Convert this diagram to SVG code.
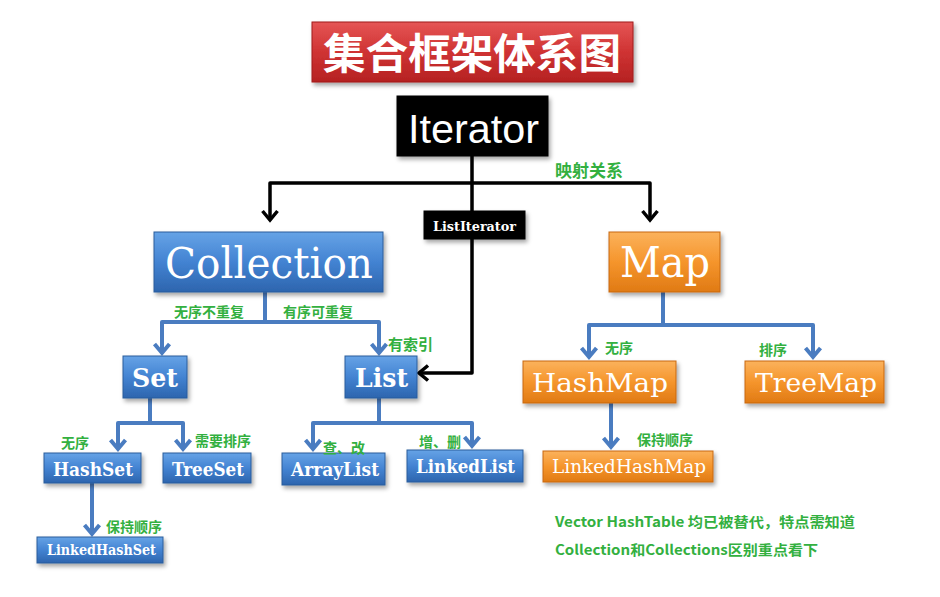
<svg xmlns="http://www.w3.org/2000/svg" width="940" height="597" viewBox="0 0 940 597">
<style>
.box{stroke-width:1}
.blue{fill:url(#gBlue);stroke:#2b5c9c}
.orange{fill:url(#gOrange);stroke:#c8680e}
.black{fill:#050505;stroke:#000}
.nt{font-family:"DejaVu Serif","Liberation Serif",serif;fill:#fff;text-anchor:start}
.gl{font-family:"Noto Sans CJK SC","Noto Sans",sans-serif;font-weight:bold;fill:#33b040}
.bl{fill:none;stroke:#4a7cc0;stroke-width:4;stroke-linejoin:round}
.bk{fill:none;stroke:#000;stroke-width:3.5;stroke-linejoin:round}
</style>
<defs>
<linearGradient id="gBlue" x1="0" y1="0" x2="0" y2="1">
<stop offset="0" stop-color="#66a3e6"/><stop offset="0.5" stop-color="#4383d2"/><stop offset="1" stop-color="#2d65ae"/>
</linearGradient>
<linearGradient id="gOrange" x1="0" y1="0" x2="0" y2="1">
<stop offset="0" stop-color="#fbb25c"/><stop offset="0.5" stop-color="#f5952c"/><stop offset="1" stop-color="#e07a14"/>
</linearGradient>
<linearGradient id="gRed" x1="0" y1="0" x2="0" y2="1">
<stop offset="0" stop-color="#e55555"/><stop offset="0.5" stop-color="#cf3333"/><stop offset="1" stop-color="#b52222"/>
</linearGradient>
<filter id="sh" x="-10%" y="-20%" width="125%" height="160%">
<feDropShadow dx="2" dy="3" stdDeviation="2" flood-color="#000" flood-opacity="0.35"/>
</filter>
<marker id="aBlue" markerUnits="userSpaceOnUse" markerWidth="24" markerHeight="24" viewBox="-12 -12 24 24" refX="0" refY="0" orient="auto-start-reverse">
<path d="M-9,-7.5 L0,0 L-9,7.5" fill="none" stroke="#4a7cc0" stroke-width="4" stroke-linejoin="miter"/>
</marker>
<marker id="aBlack" markerUnits="userSpaceOnUse" markerWidth="24" markerHeight="24" viewBox="-12 -12 24 24" refX="0" refY="0" orient="auto-start-reverse">
<path d="M-9,-7.5 L0,0 L-9,7.5" fill="none" stroke="#000" stroke-width="3.5" stroke-linejoin="miter"/>
</marker>
</defs>
<rect width="940" height="597" fill="#fff"/>

<g id="connectors">
<path class="bk" d="M472,156 V373 H419" marker-end="url(#aBlack)"/>
<path class="bk" d="M270,220 V183 H650 V220" marker-start="url(#aBlack)" marker-end="url(#aBlack)"/>
<path class="bl" d="M265,292 V322"/>
<path class="bl" d="M162,353 V322 H379 V353" marker-start="url(#aBlue)" marker-end="url(#aBlue)"/>
<path class="bl" d="M150,398 V423"/>
<path class="bl" d="M118,449 V423 H183 V449" marker-start="url(#aBlue)" marker-end="url(#aBlue)"/>
<path class="bl" d="M379,398 V423"/>
<path class="bl" d="M313,449 V423 H472 V446" marker-start="url(#aBlue)" marker-end="url(#aBlue)"/>
<path class="bl" d="M92,483 V534" marker-end="url(#aBlue)"/>
<path class="bl" d="M663,292 V325"/>
<path class="bl" d="M589,357 V325 H813 V357" marker-start="url(#aBlue)" marker-end="url(#aBlue)"/>
<path class="bl" d="M611,403 V447" marker-end="url(#aBlue)"/>
</g>

<g id="title">
<rect x="312" y="22" width="321" height="60" fill="url(#gRed)" stroke="#a01c1c" filter="url(#sh)"/>
<text x="472" y="69" font-family="Noto Sans CJK SC,sans-serif" font-weight="bold" font-size="42" fill="#fff" text-anchor="middle" textLength="298" lengthAdjust="spacingAndGlyphs">集合框架体系图</text>
</g>

<g id="iterator">
<rect class="black" x="397" y="96" width="151" height="60" filter="url(#sh)"/>
<text x="408" y="143" font-family="Liberation Sans,Arial,sans-serif" font-size="40" fill="#fff" textLength="131" lengthAdjust="spacingAndGlyphs">Iterator</text>
</g>

<g id="listiterator">
<rect class="black" x="424" y="211" width="101" height="28" filter="url(#sh)"/>
<text class="nt" x="433" y="231" font-size="13" font-weight="bold" textLength="83" lengthAdjust="spacingAndGlyphs">ListIterator</text>
</g>

<g id="collection">
<rect class="box blue" x="154" y="232" width="229" height="60" filter="url(#sh)"/>
<text class="nt" x="165" y="278" font-size="42" textLength="208" lengthAdjust="spacingAndGlyphs">Collection</text>
</g>

<g id="map">
<rect class="box orange" x="609" y="232" width="111" height="60" filter="url(#sh)"/>
<text class="nt" x="620" y="277" font-size="42" textLength="90" lengthAdjust="spacingAndGlyphs">Map</text>
</g>

<g id="set">
<rect class="box blue" x="123" y="356" width="64" height="42" filter="url(#sh)"/>
<text class="nt" x="132" y="387" font-size="26" font-weight="bold" textLength="46" lengthAdjust="spacingAndGlyphs">Set</text>
</g>

<g id="list">
<rect class="box blue" x="345" y="356" width="72" height="42" filter="url(#sh)"/>
<text class="nt" x="355" y="387" font-size="26" font-weight="bold" textLength="53" lengthAdjust="spacingAndGlyphs">List</text>
</g>

<g id="hashset">
<rect class="box blue" x="44" y="453" width="97" height="30" filter="url(#sh)"/>
<text class="nt" x="53" y="476" font-size="18" font-weight="bold" textLength="80" lengthAdjust="spacingAndGlyphs">HashSet</text>
</g>

<g id="treeset">
<rect class="box blue" x="163" y="453" width="88" height="30" filter="url(#sh)"/>
<text class="nt" x="172" y="476" font-size="18" font-weight="bold" textLength="72" lengthAdjust="spacingAndGlyphs">TreeSet</text>
</g>

<g id="arraylist">
<rect class="box blue" x="282" y="453" width="103" height="32" filter="url(#sh)"/>
<text class="nt" x="291" y="476" font-size="18" font-weight="bold" textLength="88" lengthAdjust="spacingAndGlyphs">ArrayList</text>
</g>

<g id="linkedlist">
<rect class="box blue" x="407" y="450" width="116" height="32" filter="url(#sh)"/>
<text class="nt" x="416" y="473" font-size="18" font-weight="bold" textLength="99" lengthAdjust="spacingAndGlyphs">LinkedList</text>
</g>

<g id="linkedhashset">
<rect class="box blue" x="37" y="537" width="126" height="26" filter="url(#sh)"/>
<text class="nt" x="47" y="555" font-size="14" font-weight="bold" textLength="109" lengthAdjust="spacingAndGlyphs">LinkedHashSet</text>
</g>

<g id="hashmap">
<rect class="box orange" x="523" y="361" width="153" height="42" filter="url(#sh)"/>
<text class="nt" x="532" y="392" font-size="26" textLength="136" lengthAdjust="spacingAndGlyphs">HashMap</text>
</g>

<g id="treemap">
<rect class="box orange" x="745" y="361" width="139" height="42" filter="url(#sh)"/>
<text class="nt" x="755" y="392" font-size="26" textLength="122" lengthAdjust="spacingAndGlyphs">TreeMap</text>
</g>

<g id="linkedhashmap">
<rect class="box orange" x="543" y="451" width="170" height="31" filter="url(#sh)"/>
<text class="nt" x="552" y="473" font-size="18" textLength="154" lengthAdjust="spacingAndGlyphs">LinkedHashMap</text>
</g>

<g id="labels">
<text class="gl" x="555" y="177" font-size="17">映射关系</text>
<text class="gl" x="174" y="317" font-size="14">无序不重复</text>
<text class="gl" x="283" y="317" font-size="14">有序可重复</text>
<text class="gl" x="388" y="350" font-size="15">有索引</text>
<text class="gl" x="61" y="448" font-size="14">无序</text>
<text class="gl" x="195" y="446" font-size="14">需要排序</text>
<text class="gl" x="323" y="453" font-size="14">查、改</text>
<text class="gl" x="419" y="447" font-size="14">增、删</text>
<text class="gl" x="106" y="532" font-size="14">保持顺序</text>
<text class="gl" x="605" y="353" font-size="14">无序</text>
<text class="gl" x="759" y="355" font-size="14">排序</text>
<text class="gl" x="637" y="445" font-size="14">保持顺序</text>
<text class="gl" x="555" y="527" font-size="14" textLength="300" lengthAdjust="spacingAndGlyphs">Vector HashTable 均已被替代，特点需知道</text>
<text class="gl" x="555" y="555" font-size="14" textLength="263" lengthAdjust="spacingAndGlyphs">Collection和Collections区别重点看下</text>
</g>
</svg>
